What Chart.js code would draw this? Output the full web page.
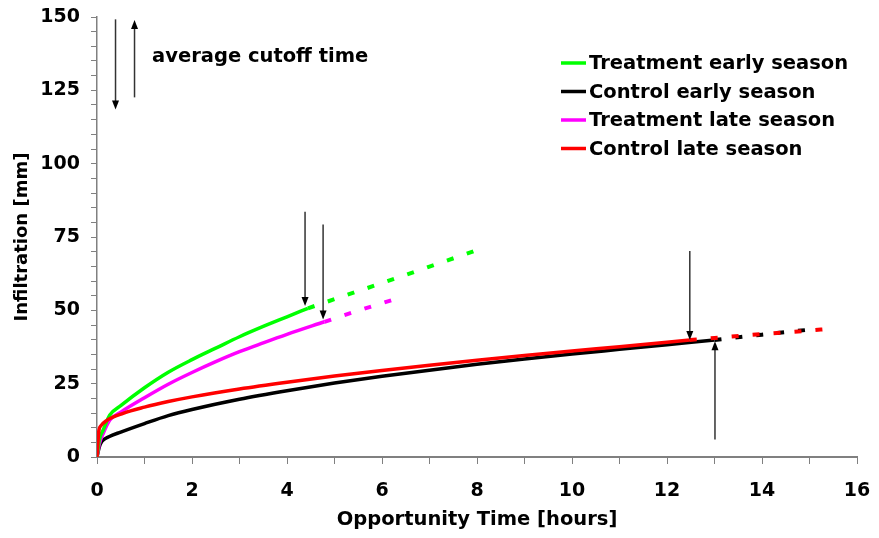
<!DOCTYPE html>
<html>
<head>
<meta charset="utf-8">
<title>Infiltration vs opportunity time</title>
<script src="https://cdn.jsdelivr.net/npm/chart.js@4.4.0/dist/chart.umd.min.js"></script>
<style>
  html, body { margin: 0; padding: 0; background: #fff; }
  #wrap { width: 879px; height: 538px; }
</style>
</head>
<body>
<div id="wrap"><canvas id="infiltrationChart"></canvas></div>
<script>
// Series names, in legend order
const seriesNames = ['Treatment early season', 'Control early season', 'Treatment late season', 'Control late season'];

// Treatment early season (green): up to cutoff, then extrapolated
const treatEarlyHours = [0, 0.05, 0.13, 0.27, 0.5, 1, 1.5, 2, 2.5, 3, 3.5, 4, 4.44];
const treatEarlyMm    = [0, 6.0, 9.2, 14.3, 17.5, 23.6, 28.9, 33.2, 37.1, 41.0, 44.5, 47.8, 50.7];
const treatEarlyExtHours = [4.44, 5, 6, 7, 7.94];
const treatEarlyExtMm    = [50.7, 53.8, 59.3, 64.9, 70.2];

// Control early season (black)
const ctrlEarlyHours = [0, 0.05, 0.1, 0.25, 0.5, 1, 1.5, 2, 3, 4, 5, 6, 7, 8, 9, 10, 11, 12, 13];
const ctrlEarlyMm    = [0, 3.5, 5.3, 6.9, 8.5, 11.4, 14.1, 16.2, 19.7, 22.6, 25.2, 27.5, 29.6, 31.6, 33.4, 35.1, 36.7, 38.3, 39.9];
const ctrlEarlyExtHours = [13, 14, 15.05];
const ctrlEarlyExtMm    = [39.9, 41.7, 43.5];

// Treatment late season (magenta)
const treatLateHours = [0, 0.05, 0.13, 0.27, 0.5, 1, 1.5, 2, 2.5, 3, 3.5, 4, 4.79];
const treatLateMm    = [0, 4.5, 8.0, 12.6, 15.3, 20.2, 24.8, 28.8, 32.5, 35.9, 38.9, 41.8, 46.1];
const treatLateExtHours = [4.79, 5.5, 6.27];
const treatLateExtMm    = [46.1, 49.9, 53.8];

// Control late season (red)
const ctrlLateHours = [0, 0.04, 0.08, 0.2, 0.55, 1, 1.5, 2, 3, 4, 5, 6, 7, 8, 9, 10, 11, 12, 12.48];
const ctrlLateMm    = [0, 9.0, 10.6, 12.4, 14.9, 17.0, 18.9, 20.5, 23.2, 25.5, 27.6, 29.5, 31.3, 33.0, 34.6, 36.1, 37.6, 39.1, 39.9];
const ctrlLateExtHours = [12.48, 13, 14, 15, 15.36];
const ctrlLateExtMm    = [39.9, 40.6, 41.9, 43.1, 43.6];

// Cutoff arrows: time, tail and head of each arrow
const arrowHours  = [0.39, 0.79, 4.38, 4.76, 12.48, 13.01];
const arrowFromMm = [149.2, 122.6, 83.6, 79.3, 70.2, 6.0];
const arrowToMm   = [118.5, 149.0, 51.5, 46.9, 39.9, 39.5];

const noteText = 'average cutoff time';
const noteAt = [1.16, 136.4];

const textFont = 'bold 19.5px "DejaVu Sans", Verdana, sans-serif';

function toPoints(xs, ys) {
    return xs.map((x, i) => ({x: x, y: ys[i]}));
}

function solid(label, xs, ys, color, order) {
    return {
        label: label,
        data: toPoints(xs, ys),
        borderColor: color,
        borderWidth: 3.5,
        pointRadius: 0,
        cubicInterpolationMode: 'monotone',
        order: order
    };
}

function dashed(xs, ys, color, order) {
    return {
        label: '',
        data: toPoints(xs, ys),
        borderColor: color,
        borderWidth: 4,
        borderDash: [7, 14],
        pointRadius: 0,
        cubicInterpolationMode: 'monotone',
        order: order
    };
}

const colors = ['#00ff00', '#000000', '#ff00ff', '#ff0000'];

// draws the four series keys in the upper right
const legendBox = {
    id: 'legendBox',
    afterDraw(chart) {
        const ctx = chart.ctx;
        ctx.save();
        ctx.font = textFont;
        ctx.textBaseline = 'middle';
        ctx.fillStyle = '#000';
        for (let i = 0; i < 4; i++) {
            const ds = chart.data.datasets[i];
            const y = 63 + i * 28.5;
            ctx.strokeStyle = ds.borderColor;
            ctx.lineWidth = 3.5;
            ctx.beginPath();
            ctx.moveTo(561, y);
            ctx.lineTo(586, y);
            ctx.stroke();
            ctx.fillText(ds.label, 589, y + 1);
        }
        ctx.restore();
    }
};

// arrows marking the cutoff times, plus the note next to the key arrows
const cutoffArrows = {
    id: 'cutoffArrows',
    afterDatasetsDraw(chart) {
        const ctx = chart.ctx;
        const xs = chart.scales.x, ys = chart.scales.y;
        ctx.save();
        arrowHours.forEach((h, i) => {
            const x = xs.getPixelForValue(h);
            const y0 = ys.getPixelForValue(arrowFromMm[i]);
            const y1 = ys.getPixelForValue(arrowToMm[i]);
            const dir = y1 > y0 ? 1 : -1;
            ctx.strokeStyle = '#333';
            ctx.fillStyle = '#000';
            ctx.lineWidth = 1.5;
            ctx.beginPath();
            ctx.moveTo(x, y0);
            ctx.lineTo(x, y1 - dir * 8);
            ctx.stroke();
            ctx.beginPath();
            ctx.moveTo(x, y1);
            ctx.lineTo(x - 3.5, y1 - dir * 9);
            ctx.lineTo(x + 3.5, y1 - dir * 9);
            ctx.closePath();
            ctx.fill();
        });
        ctx.font = textFont;
        ctx.textBaseline = 'middle';
        ctx.fillStyle = '#000';
        ctx.fillText(noteText, xs.getPixelForValue(noteAt[0]), ys.getPixelForValue(noteAt[1]));
        ctx.restore();
    }
};

Chart.defaults.font.family = '"DejaVu Sans", Verdana, sans-serif';
Chart.defaults.font.weight = 'bold';
Chart.defaults.font.size = 19;
Chart.defaults.color = '#000';

new Chart(document.getElementById('infiltrationChart').getContext('2d'), {
    type: 'line',
    data: {
        datasets: [
            solid(seriesNames[0], treatEarlyHours, treatEarlyMm, colors[0], 2),
            solid(seriesNames[1], ctrlEarlyHours, ctrlEarlyMm, colors[1], 4),
            solid(seriesNames[2], treatLateHours, treatLateMm, colors[2], 3),
            solid(seriesNames[3], ctrlLateHours, ctrlLateMm, colors[3], 1),
            dashed(treatEarlyExtHours, treatEarlyExtMm, colors[0], 2),
            dashed(ctrlEarlyExtHours, ctrlEarlyExtMm, colors[1], 4),
            dashed(treatLateExtHours, treatLateExtMm, colors[2], 3),
            dashed(ctrlLateExtHours, ctrlLateExtMm, colors[3], 1)
        ]
    },
    options: {
        responsive: true,
        maintainAspectRatio: false,
        animation: false,
        layout: {
            padding: {left: 0, top: 17, right: 22, bottom: 0}
        },
        scales: {
            x: {
                type: 'linear',
                min: 0,
                max: 16,
                ticks: {
                    stepSize: 1,
                    autoSkip: false,
                    maxRotation: 0,
                    padding: 16,
                    callback: v => (v % 2 === 0 ? v : '')
                },
                grid: {
                    drawOnChartArea: false,
                    tickLength: 7,
                    color: '#808080'
                },
                border: {color: '#808080', width: 2},
                title: {
                    display: true,
                    text: 'Opportunity Time [hours]',
                    font: {size: 19.5},
                    padding: {top: 6, bottom: 6}
                },
                // fixed box; end labels may overhang the plot edges
                afterFit: scale => {
                    scale.height = 81;
                    scale.paddingLeft = 0;
                    scale.paddingRight = 0;
                }
            },
            y: {
                min: 0,
                max: 150,
                ticks: {
                    stepSize: 5,
                    autoSkip: false,
                    padding: 11,
                    callback: v => (v % 25 === 0 ? v : '')
                },
                grid: {
                    drawOnChartArea: false,
                    tickLength: 6,
                    color: '#808080'
                },
                border: {color: '#808080', width: 1.5},
                title: {
                    display: true,
                    text: 'Infiltration [mm]',
                    font: {size: 18},
                    padding: {top: 12, bottom: 12}
                },
                afterFit: scale => {
                    scale.width = 97;
                    scale.paddingTop = 0;
                    scale.paddingBottom = 0;
                }
            }
        },
        plugins: {
            legend: {display: false},
            tooltip: {enabled: false}
        }
    },
    plugins: [cutoffArrows, legendBox]
});
</script>
</body>
</html>
